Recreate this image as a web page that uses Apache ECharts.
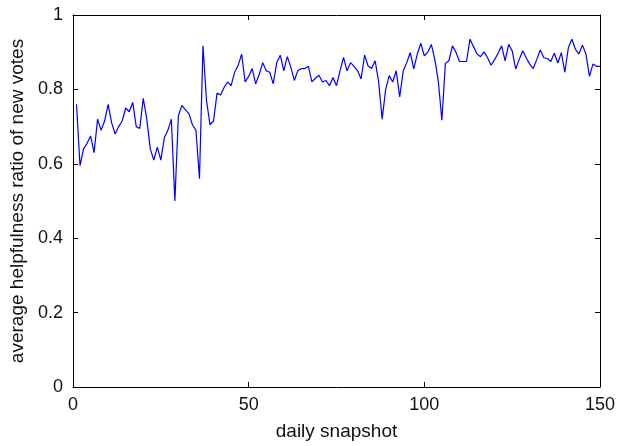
<!DOCTYPE html>
<html>
<head>
<meta charset="utf-8">
<script src="https://cdn.jsdelivr.net/npm/echarts@6/dist/echarts.min.js"></script>
<style>
html,body{margin:0;padding:0;background:#fff;}
#chart{width:618px;height:446px;}
</style>
</head>
<body>
<div id="chart"></div>
<script>
// Data: day index 1..150 and average helpfulness ratio
const days = Array.from({length: 150}, (_, i) => i + 1);
const ratioA = [0.76,0.595,0.64,0.655,0.675,0.63,0.72,0.69,0.715,0.76,
0.71,0.68,0.70,0.715,0.75,0.74,0.765,0.70,0.695,0.776,
0.72,0.64,0.61,0.645,0.61,0.67,0.69,0.72,0.50,0.73,
0.757,0.745,0.735,0.705,0.69,0.56,0.917,0.77,0.705,0.715,
0.79,0.785,0.805,0.82,0.81,0.846,0.864,0.895,0.82,0.835];
const ratioB = [0.856,0.815,0.84,0.872,0.85,0.846,0.815,0.872,0.892,0.85,
0.888,0.86,0.824,0.85,0.856,0.856,0.862,0.82,0.83,0.838,
0.82,0.824,0.81,0.832,0.81,0.85,0.886,0.85,0.872,0.862,
0.85,0.828,0.892,0.863,0.856,0.877,0.82,0.72,0.80,0.837,
0.82,0.85,0.78,0.85,0.872,0.899,0.855,0.895,0.924,0.89];
const ratioC = [0.90,0.921,0.88,0.82,0.717,0.87,0.877,0.917,0.90,0.875,
0.875,0.875,0.935,0.915,0.895,0.888,0.901,0.885,0.865,0.88,
0.897,0.917,0.877,0.921,0.904,0.855,0.88,0.904,0.885,0.868,
0.856,0.88,0.906,0.885,0.883,0.875,0.897,0.871,0.899,0.846,
0.912,0.935,0.908,0.895,0.919,0.895,0.835,0.868,0.862,0.862];
const ratio = ratioA.concat(ratioB, ratioC);
const xTicks = [0, 50, 100, 150];
const yTicks = [0, 0.2, 0.4, 0.6, 0.8, 1];
const xName = 'daily snapshot';
const yName = 'average helpfulness ratio of new votes';

const font = 'Liberation Sans, Arial, sans-serif';
const axisCommon = {
  axisLine: {show: true, onZero: false, lineStyle: {color: '#000', width: 1}},
  axisTick: {show: true, inside: true, length: 5, lineStyle: {color: '#000'}},
  splitLine: {show: false}
};
const chart = echarts.init(document.getElementById('chart'), null, {renderer: 'canvas'});
chart.setOption({
  animation: false,
  backgroundColor: '#fff',
  grid: {left: 73, right: 17, top: 15, bottom: 55, containLabel: false},
  xAxis: [
    Object.assign({type: 'value', min: xTicks[0], max: xTicks[xTicks.length-1], interval: 50,
      position: 'bottom', name: xName, nameLocation: 'middle', nameGap: 35,
      nameTextStyle: {fontFamily: font, fontSize: 19, color: '#111'},
      axisLabel: {fontFamily: font, fontSize: 18, color: '#111', margin: 9}}, axisCommon),
    Object.assign({type: 'value', min: 0, max: 150, interval: 50, position: 'top',
      axisLabel: {show: false}}, axisCommon)
  ],
  yAxis: [
    Object.assign({type: 'value', min: yTicks[0], max: yTicks[yTicks.length-1], interval: 0.2,
      position: 'left', name: yName, nameLocation: 'middle', nameGap: 46,
      nameTextStyle: {fontFamily: font, fontSize: 19, color: '#111'},
      axisLabel: {fontFamily: font, fontSize: 18, color: '#111', margin: 10}}, axisCommon),
    Object.assign({type: 'value', min: 0, max: 1, interval: 0.2, position: 'right',
      axisLabel: {show: false}}, axisCommon)
  ],
  series: [{
    type: 'line',
    data: days.map((d, i) => [d, ratio[i]]),
    showSymbol: false,
    symbol: 'none',
    lineStyle: {color: '#0000ff', width: 1.2},
    xAxisIndex: 0,
    yAxisIndex: 0
  }]
});
</script>
</body>
</html>
